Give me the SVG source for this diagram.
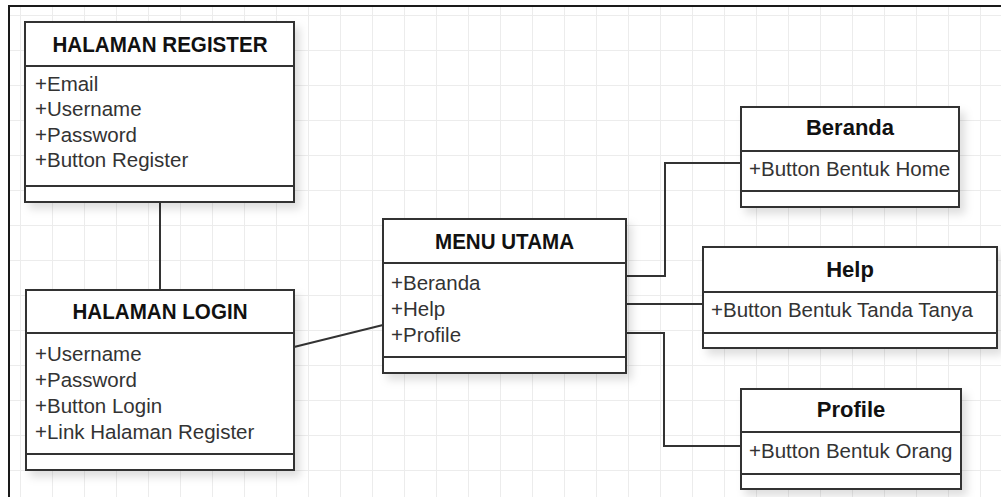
<svg xmlns="http://www.w3.org/2000/svg" width="1001" height="497" viewBox="0 0 1001 497">
  <defs>
    <pattern id="grid" x="20" y="15" width="32" height="35" patternUnits="userSpaceOnUse">
      <path d="M0 0 V35 M0 0 H32" fill="none" stroke="#ececec" stroke-width="2"/>
    </pattern>
    <filter id="shadow" x="-10%" y="-10%" width="130%" height="130%">
      <feDropShadow dx="5" dy="6" stdDeviation="4" flood-color="#000" flood-opacity="0.13"/>
    </filter>
  </defs>
  <style>
    .box { fill: #ffffff; stroke: #333333; stroke-width: 2; }
    .div { stroke: #333333; stroke-width: 2; }
    .title { font-family: "Liberation Sans", Arial, sans-serif; font-weight: bold; font-size: 22px; fill: #111111; text-anchor: middle; }
    .attr { font-family: "Liberation Sans", Arial, sans-serif; font-size: 20.5px; fill: #333333; }
    .conn { fill: none; stroke: #333333; stroke-width: 2; }
  </style>
  <rect x="0" y="0" width="1001" height="497" fill="#ffffff"/>
  <rect x="9" y="6" width="992" height="491" fill="url(#grid)"/>
  <path d="M9 497 V6 H1001" fill="none" stroke="#1a1a1a" stroke-width="2"/>

  <g id="connectors">
    <path class="conn" d="M160 202 V290"/>
    <path class="conn" d="M294 347 L383 325"/>
    <path class="conn" d="M626 276 H665 V163 H741"/>
    <path class="conn" d="M626 304 H703"/>
    <path class="conn" d="M626 333 H664 V446 H741"/>
  </g>

  <g id="halaman-register">
    <rect class="box" x="25" y="22" width="269" height="180" filter="url(#shadow)"/>
    <line class="div" x1="25" y1="66" x2="294" y2="66"/>
    <line class="div" x1="25" y1="186" x2="294" y2="186"/>
    <text class="title" x="160" y="52" textLength="215" lengthAdjust="spacingAndGlyphs">HALAMAN REGISTER</text>
    <text class="attr" x="35" y="91">+Email</text>
    <text class="attr" x="35" y="116">+Username</text>
    <text class="attr" x="35" y="142">+Password</text>
    <text class="attr" x="35" y="167">+Button Register</text>
  </g>

  <g id="halaman-login">
    <rect class="box" x="26" y="290" width="268" height="180" filter="url(#shadow)"/>
    <line class="div" x1="26" y1="333" x2="294" y2="333"/>
    <line class="div" x1="26" y1="454" x2="294" y2="454"/>
    <text class="title" x="160" y="319" textLength="175" lengthAdjust="spacingAndGlyphs">HALAMAN LOGIN</text>
    <text class="attr" x="35" y="361">+Username</text>
    <text class="attr" x="35" y="387">+Password</text>
    <text class="attr" x="35" y="413">+Button Login</text>
    <text class="attr" x="35" y="439">+Link Halaman Register</text>
  </g>

  <g id="menu-utama">
    <rect class="box" x="383" y="219" width="243" height="154" filter="url(#shadow)"/>
    <line class="div" x1="383" y1="263" x2="626" y2="263"/>
    <line class="div" x1="383" y1="357" x2="626" y2="357"/>
    <text class="title" x="504.5" y="249" textLength="139" lengthAdjust="spacingAndGlyphs">MENU UTAMA</text>
    <text class="attr" x="391" y="290">+Beranda</text>
    <text class="attr" x="391" y="316">+Help</text>
    <text class="attr" x="391" y="342">+Profile</text>
  </g>

  <g id="beranda">
    <rect class="box" x="741" y="107" width="218" height="100" filter="url(#shadow)"/>
    <line class="div" x1="741" y1="151" x2="959" y2="151"/>
    <line class="div" x1="741" y1="191" x2="959" y2="191"/>
    <text class="title" x="850" y="135">Beranda</text>
    <text class="attr" x="749" y="176">+Button Bentuk Home</text>
  </g>

  <g id="help">
    <rect class="box" x="703" y="247" width="294" height="101" filter="url(#shadow)"/>
    <line class="div" x1="703" y1="292" x2="997" y2="292"/>
    <line class="div" x1="703" y1="333" x2="997" y2="333"/>
    <text class="title" x="850" y="277">Help</text>
    <text class="attr" x="711" y="317">+Button Bentuk Tanda Tanya</text>
  </g>

  <g id="profile">
    <rect class="box" x="741" y="389" width="220" height="100" filter="url(#shadow)"/>
    <line class="div" x1="741" y1="432" x2="961" y2="432"/>
    <line class="div" x1="741" y1="474" x2="961" y2="474"/>
    <text class="title" x="851" y="417">Profile</text>
    <text class="attr" x="749" y="458">+Button Bentuk Orang</text>
  </g>
</svg>
